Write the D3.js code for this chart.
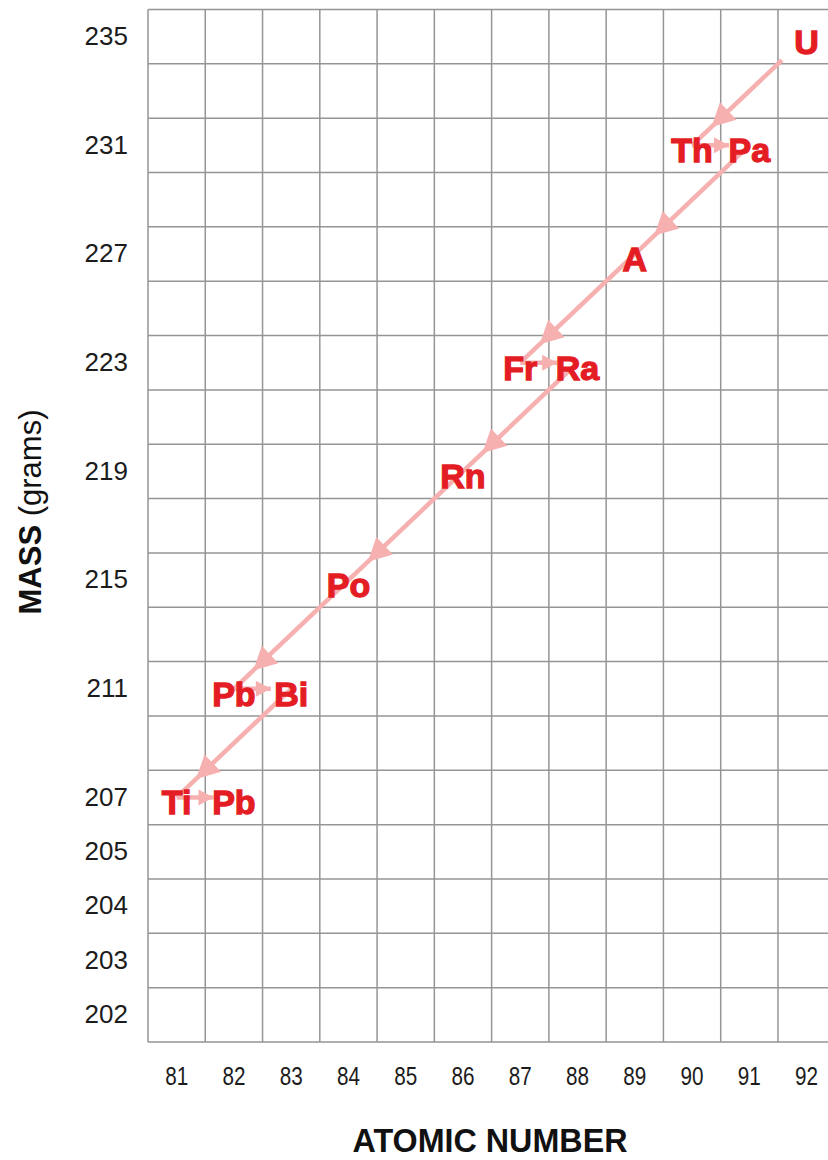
<!DOCTYPE html>
<html><head><meta charset="utf-8">
<script src="https://cdn.jsdelivr.net/npm/d3@7"></script>
<style>body{margin:0;background:#fff;overflow:hidden}</style>
</head><body><svg id="chart" width="828" height="1160"></svg>
<script>
// ---- data ----
const atomicNumbers = [81, 82, 83, 84, 85, 86, 87, 88, 89, 90, 91, 92];
const massRows = [235, 233, 231, 229, 227, 225, 223, 221, 219, 217, 215, 213, 211, 209, 207, 205, 204, 203, 202];
const massTickLabels = [235, 231, 227, 223, 219, 215, 211, 207, 205, 204, 203, 202];
const elementSymbols = ["U", "Th", "Pa", "A", "Fr", "Ra", "Rn", "Po", "Pb", "Bi", "Ti", "Pb"];
const elementZ = [92, 90, 91, 89, 87, 88, 86, 84, 82, 83, 81, 82];
const elementMass = [235, 231, 231, 227, 223, 223, 219, 215, 211, 211, 207, 207];
const decayType = ["alpha", "beta", "alpha", "alpha", "beta", "alpha", "alpha", "alpha", "beta", "alpha", "beta"];
const xTitle = "ATOMIC NUMBER";
const yTitleBold = "MASS";
const yTitleRest = " (grams)";

// ---- layout ----
const svg = d3.select("#chart");
const plotLeft = 148, plotTop = 9.5, plotBottom = 1042, colW = 57.27;
const x = d3.scaleBand().domain(atomicNumbers).range([plotLeft, plotLeft + colW * atomicNumbers.length]);
const y = d3.scaleBand().domain(massRows).range([plotTop, plotBottom]);
const cx = z => x(z) + x.bandwidth() / 2;
const cy = m => y(m) + y.bandwidth() / 2;

const gridColor = "#959595";
const lineColor = "#f6b0b0";
const labelColor = "#e41d25";

// grid
const grid = svg.append("g");
const xEdges = atomicNumbers.map(z => x(z)).concat([x.range()[1]]);
const yEdges = massRows.map(m => y(m)).concat([plotBottom]);
grid.selectAll("line.v").data(xEdges).join("line").attr("class", "v")
  .attr("x1", d => d).attr("x2", d => d).attr("y1", plotTop).attr("y2", plotBottom)
  .attr("stroke", gridColor).attr("stroke-width", 1.5);
grid.selectAll("line.h").data(yEdges).join("line").attr("class", "h")
  .attr("y1", d => d).attr("y2", d => d).attr("x1", plotLeft).attr("x2", x.range()[1])
  .attr("stroke", gridColor).attr("stroke-width", 1.5);

// axes
const yAxis = svg.append("g").attr("transform", `translate(${plotLeft},0)`)
  .call(d3.axisLeft(y).tickValues(massTickLabels).tickSize(0).tickPadding(20));
yAxis.select(".domain").remove();
yAxis.selectAll("text").attr("font-family", "'Liberation Sans', Arial, sans-serif")
  .attr("font-size", 26).attr("fill", "#1c1c1c");

const xAxis = svg.append("g").attr("transform", `translate(0,${plotBottom})`)
  .call(d3.axisBottom(x).tickSize(0).tickPadding(25));
xAxis.select(".domain").remove();
xAxis.selectAll("text").attr("font-family", "'Liberation Sans', Arial, sans-serif")
  .attr("font-size", 25).attr("fill", "#1c1c1c")
  .attr("textLength", 23).attr("lengthAdjust", "spacingAndGlyphs");

// decay arrows
const pts = elementSymbols.map((s, i) => ({ s, px: cx(elementZ[i]), py: cy(elementMass[i]) }));
const arrows = svg.append("g");
decayType.forEach((t, i) => {
  const a = pts[i], b = pts[i + 1];
  const dx = b.px - a.px, dy = b.py - a.py, len = Math.hypot(dx, dy);
  const ux = dx / len, uy = dy / len, nx = -uy, ny = ux;
  const trim = i === 0 ? 34 : 0;
  const frac = t === "alpha" ? 0.75 : 0.5;
  const c = [a.px + dx * frac, a.py + dy * frac];
  const L = t === "alpha" ? 23 : 15, W = t === "alpha" ? 24 : 16;
  const tip = [c[0] + ux * L * 0.55, c[1] + uy * L * 0.55];
  const base = [c[0] - ux * L * 0.45, c[1] - uy * L * 0.45];
  const end = t === "alpha" ? [b.px, b.py] : tip;
  arrows.append("line")
    .attr("x1", a.px + ux * trim).attr("y1", a.py + uy * trim)
    .attr("x2", end[0]).attr("y2", end[1])
    .attr("stroke", lineColor).attr("stroke-width", 4.5);
  arrows.append("path")
    .attr("d", d3.line()([tip, [base[0] + nx * W / 2, base[1] + ny * W / 2], [base[0] - nx * W / 2, base[1] - ny * W / 2]]) + "Z")
    .attr("fill", lineColor);
});

// element labels
svg.append("g").selectAll("text").data(pts).join("text")
  .attr("x", d => d.px).attr("y", d => d.py + 17)
  .attr("text-anchor", "middle")
  .attr("font-family", "'Liberation Sans', Arial, sans-serif")
  .attr("font-weight", "bold").attr("font-size", 34)
  .attr("fill", labelColor).attr("stroke", labelColor).attr("stroke-width", 1.3)
  .text(d => d.s);

// titles
const yt = svg.append("text")
  .attr("transform", "translate(41,512) rotate(-90)")
  .attr("text-anchor", "middle")
  .attr("font-family", "'Liberation Sans', Arial, sans-serif")
  .attr("font-size", 31).attr("fill", "#111");
yt.append("tspan").attr("font-weight", "bold").text(yTitleBold);
yt.append("tspan").attr("font-weight", "normal").text(yTitleRest);

svg.append("text")
  .attr("x", 490).attr("y", 1152)
  .attr("text-anchor", "middle")
  .attr("font-family", "'Liberation Sans', Arial, sans-serif")
  .attr("font-weight", "bold").attr("font-size", 34).attr("fill", "#111")
  .attr("textLength", 275).attr("lengthAdjust", "spacingAndGlyphs")
  .text(xTitle);
</script>
</body></html>
